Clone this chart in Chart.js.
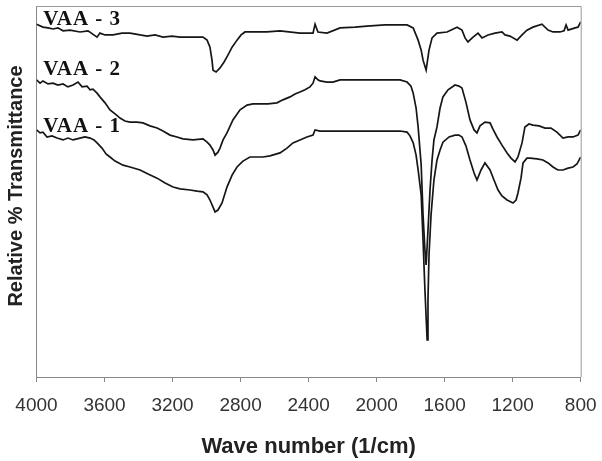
<!DOCTYPE html>
<html>
<head>
<meta charset="utf-8">
<script src="https://cdn.jsdelivr.net/npm/chart.js@4.4.1/dist/chart.umd.min.js"></script>
<style>
  html,body{margin:0;padding:0;background:#fff}
  #wrap{width:602px;height:461px}
</style>
</head>
<body>
<div id="wrap"><canvas id="ftir"></canvas></div>
<script>
(function(){
  // tick labels of the wave number axis
  const xTickValues = [4000,3600,3200,2800,2400,2000,1600,1200,800];
  const seriesNames = ['VAA - 3','VAA - 2','VAA - 1'];

  // VAA - 3 (top trace)
  const vaa3Wave = [4000,3962,3932,3903,3874,3844,3803,3744,3697,3644,3627,3597,3550,3497,3450,3391,3350,3303,3256,3203,3156,3086,3021,2997,2980,2968,2962,2944,2921,2897,2880,2850,2821,2797,2774,2715,2645,2568,2451,2374,2362,2345,2292,2215,2127,2057,1951,1821,1785,1756,1738,1727,1709,1692,1674,1645,1586,1527,1498,1480,1463,1433,1404,1380,1345,1304,1263,1245,1216,1174,1145,1116,1081,1028,992,963,922,898,886,874,833,816,800];
  const vaa3T = [95.1,94.3,94.1,93.8,94.1,93.3,93.5,93.0,93.3,91.6,92.7,92.2,92.2,92.7,92.7,92.2,91.9,92.2,91.6,91.9,91.6,91.6,91.6,90.8,88.9,85.4,82.7,82.2,83.3,84.9,86.3,88.9,90.8,92.2,93.0,93.0,93.0,93.3,92.7,92.7,95.1,93.0,92.7,94.1,94.3,94.6,94.9,94.9,94.1,90.8,88.1,85.4,82.7,88.1,91.4,92.7,93.0,94.3,93.5,91.4,90.3,91.6,92.7,91.4,92.2,92.7,93.0,92.2,91.9,90.8,92.2,93.5,94.3,95.1,93.5,93.0,93.0,93.3,94.9,93.5,94.1,94.3,95.7];

  // VAA - 2 (middle trace)
  const vaa2Wave = [4000,3979,3962,3932,3903,3874,3844,3815,3785,3756,3732,3703,3685,3668,3644,3627,3597,3568,3538,3509,3480,3450,3409,3374,3333,3291,3256,3215,3174,3139,3080,3021,2997,2980,2962,2950,2933,2921,2903,2880,2845,2803,2762,2727,2686,2639,2586,2551,2509,2480,2451,2421,2392,2374,2362,2345,2333,2292,2257,2215,2098,1980,1862,1821,1798,1785,1768,1756,1738,1727,1716,1709,1698,1686,1674,1663,1645,1627,1610,1580,1539,1516,1498,1475,1451,1427,1410,1392,1363,1333,1316,1292,1263,1233,1210,1186,1169,1145,1128,1104,1081,1045,1010,975,940,904,874,845,816,800];
  const vaa2T = [80.1,79.2,79.8,79.0,79.2,78.7,79.0,78.2,78.7,79.5,78.2,78.4,77.4,77.6,76.5,75.5,73.9,72.0,70.9,69.8,69.0,68.7,68.7,68.5,67.7,67.1,66.3,65.2,64.7,64.2,63.9,64.2,63.3,62.5,61.2,59.8,60.6,61.7,63.9,65.8,69.3,72.0,73.3,73.6,73.6,73.6,73.9,74.7,75.5,76.3,76.8,77.4,78.2,79.2,80.9,80.1,79.8,79.5,79.5,80.1,80.1,80.1,80.1,79.5,78.4,76.5,72.5,67.4,57.1,43.7,34.2,30.2,39.6,50.4,58.5,63.9,67.4,72.5,75.5,77.4,78.7,78.4,77.9,74.1,69.3,66.6,65.8,67.7,68.7,68.5,66.8,64.7,62.5,60.4,59.0,58.0,59.3,63.1,67.4,68.2,67.9,67.7,67.1,67.1,66.0,64.4,64.7,64.7,65.2,66.6];

  // VAA - 1 (bottom trace)
  const vaa1Wave = [4000,3979,3962,3938,3909,3879,3844,3815,3785,3744,3715,3685,3662,3644,3615,3591,3568,3538,3491,3450,3391,3344,3291,3244,3197,3156,3097,3056,3021,2997,2980,2962,2950,2933,2909,2880,2850,2821,2786,2745,2704,2668,2627,2568,2527,2492,2451,2410,2374,2362,2333,2292,2215,2098,1980,1862,1821,1804,1785,1768,1756,1738,1727,1716,1703,1698,1692,1680,1663,1645,1627,1610,1574,1539,1516,1498,1475,1451,1427,1410,1386,1363,1333,1310,1286,1263,1233,1198,1180,1169,1151,1139,1116,1098,1057,1022,992,963,934,904,874,845,822,800];
  const vaa1T = [66.6,65.8,66.0,64.7,65.0,64.4,63.9,64.4,63.9,64.4,64.7,64.4,63.9,63.1,61.7,60.1,59.3,58.2,57.1,56.6,55.8,54.7,53.6,52.3,51.2,50.7,50.4,50.1,49.9,49.1,47.7,45.8,44.5,45.0,46.9,51.2,54.4,56.6,58.2,59.3,59.3,59.3,59.6,60.4,61.7,63.1,63.9,64.7,65.2,66.6,66.3,66.3,66.3,66.3,66.3,66.3,66.0,65.0,63.1,59.8,55.8,49.1,36.9,23.5,10.0,20.8,32.9,43.7,53.1,58.5,61.2,63.3,64.7,65.2,65.2,64.7,62.3,58.5,55.0,53.1,55.8,57.7,55.8,53.1,50.4,48.8,47.7,46.9,47.7,49.6,53.6,57.7,59.0,59.0,58.8,58.5,57.7,56.6,55.8,55.8,56.3,56.6,57.4,59.3];

  const toPoints = (w, t) => w.map((v, i) => ({ x: v, y: t[i] }));
  const line = (label, pts) => ({ label, data: pts, borderColor:'#161616', borderWidth:1.7, pointRadius:0, tension:0, fill:false });

  const sans = '"Liberation Sans", Arial, sans-serif';

  // frame top/right, series names and axis titles
  const decorations = {
    id:'decorations',
    afterDraw(chart){
      const { ctx, chartArea:a, scales:{ x, y } } = chart;
      ctx.save();
      ctx.strokeStyle = '#999'; ctx.lineWidth = 1;
      ctx.beginPath();
      ctx.moveTo(a.left, a.top + 0.5); ctx.lineTo(a.right + 0.5, a.top + 0.5); ctx.lineTo(a.right + 0.5, a.bottom);
      ctx.stroke();

      // names sit at the start of each trace
      const nameAt = [[3960, 94.9], [3960, 81.4], [3960, 66.0]];
      ctx.font = 'bold 21px "Liberation Serif", "Times New Roman", serif';
      if ('letterSpacing' in ctx) ctx.letterSpacing = '1px';
      ctx.fillStyle = '#111'; ctx.textAlign = 'left'; ctx.textBaseline = 'alphabetic';
      seriesNames.forEach((n, i) => ctx.fillText(n, x.getPixelForValue(nameAt[i][0]), y.getPixelForValue(nameAt[i][1])));
      if ('letterSpacing' in ctx) ctx.letterSpacing = '0px';

      ctx.fillStyle = '#222'; ctx.textAlign = 'center';
      ctx.font = 'bold 22px ' + sans;
      ctx.fillText('Wave number (1/cm)', (a.left + a.right) / 2, 453);

      ctx.font = 'bold 20px ' + sans;
      ctx.translate(22, 186); ctx.rotate(-Math.PI / 2);
      ctx.fillText('Relative % Transmittance', 0, 0);
      ctx.restore();
    }
  };

  new Chart(document.getElementById('ftir'), {
    type:'line',
    data:{ datasets:[
      line(seriesNames[0], toPoints(vaa3Wave, vaa3T)),
      line(seriesNames[1], toPoints(vaa2Wave, vaa2T)),
      line(seriesNames[2], toPoints(vaa1Wave, vaa1T))
    ]},
    options:{
      responsive:true, maintainAspectRatio:false, animation:false,
      layout:{ padding:{ top:6, right:0, left:0, bottom:0 } },
      plugins:{ legend:{ display:false }, tooltip:{ enabled:false } },
      scales:{
        x:{
          type:'linear', reverse:true, min:800, max:4000,
          afterBuildTicks: s => { s.ticks = xTickValues.map(v => ({ value:v })); },
          afterFit: s => { s.height = 84; s.paddingLeft = 0; s.paddingRight = 21.3; },
          ticks:{ autoSkip:false, maxRotation:0, padding:12, color:'#333', font:{ family:sans, size:19 }, callback: v => String(v) },
          grid:{ drawOnChartArea:false, drawTicks:true, tickLength:5, color:'#888' },
          border:{ color:'#888', width:1 }
        },
        y:{
          min:0, max:100,
          afterFit: s => { s.width = 36.5; },
          ticks:{ display:false },
          grid:{ display:false },
          border:{ color:'#888', width:1 }
        }
      }
    },
    plugins:[decorations]
  });
})();
</script>
</body>
</html>
